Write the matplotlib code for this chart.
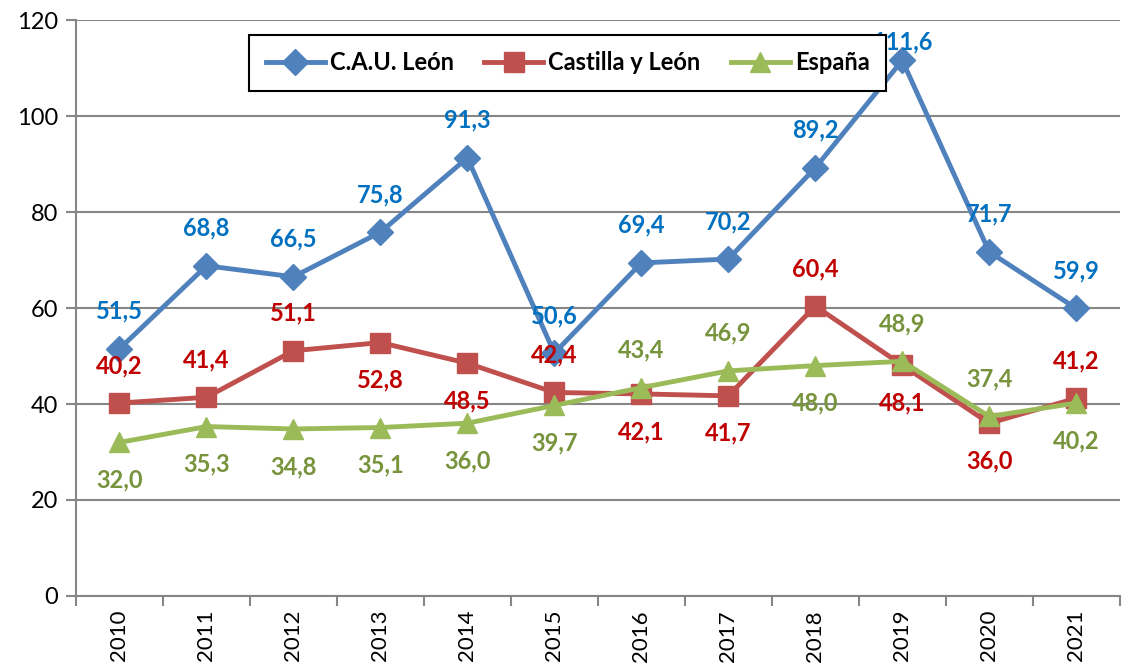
import matplotlib.pyplot as plt
import numpy as np

plt.rcParams['font.family'] = ['Lato', 'DejaVu Sans']

years = ['2010', '2011', '2012', '2013', '2014', '2015', '2016', '2017', '2018', '2019', '2020', '2021']
cau_leon = [51.5, 68.8, 66.5, 75.8, 91.3, 50.6, 69.4, 70.2, 89.2, 111.6, 71.7, 59.9]
castilla_leon = [40.2, 41.4, 51.1, 52.8, 48.5, 42.4, 42.1, 41.7, 60.4, 48.1, 36.0, 41.2]
espana = [32.0, 35.3, 34.8, 35.1, 36.0, 39.7, 43.4, 46.9, 48.0, 48.9, 37.4, 40.2]

# label placement: 1 = above the point, -1 = below
cau_pos = [1] * 12
cyl_pos = [1, 1, 1, -1, -1, 1, -1, -1, 1, -1, -1, 1]
esp_pos = [-1, -1, -1, -1, -1, -1, 1, 1, -1, 1, 1, -1]

series = [
    ('C.A.U. León', cau_leon, cau_pos, '#4F81BD', '#0070C0', 'D', 13),
    ('Castilla y León', castilla_leon, cyl_pos, '#C0504D', '#C00000', 's', 14),
    ('España', espana, esp_pos, '#9BBB59', '#77933C', '^', 15),
]

fig = plt.figure(figsize=(11.31, 6.68), dpi=100)
ax = fig.add_axes([0.0672, 0.1078, 0.9228, 0.8622])

x = np.arange(len(years))
for name, vals, pos, color, lcolor, marker, ms in series:
    ax.plot(x, vals, color=color, lw=3.5, marker=marker, markersize=ms,
            label=name, zorder=3)
    for xi, v, p in zip(x, vals, pos):
        off = 27 * p
        if name == 'C.A.U. León' and v > 110:
            off = 13
        ax.annotate(f'{v:.1f}'.replace('.', ','), (xi, v), xytext=(0, off),
                    textcoords='offset points', ha='center', va='center',
                    fontsize=17, fontweight='bold', color=lcolor, zorder=4)

ax.set_xlim(-0.5, len(years) - 0.5)
ax.set_ylim(0, 120)
ax.set_yticks(range(0, 121, 20))
ax.yaxis.grid(True, color='#868686', lw=1.5)
ax.set_axisbelow(True)

ax.set_xticks(x)
ax.set_xticklabels(years, rotation=90)
ax.set_xticks(np.arange(-0.5, len(years), 1), minor=True)
ax.tick_params(axis='x', which='major', length=0, pad=10, labelsize=16)
ax.tick_params(axis='x', which='minor', length=7, width=1.5, color='#868686')
ax.tick_params(axis='y', length=7, width=1.5, color='#868686', labelsize=17, pad=6)

for s in ['top', 'right']:
    ax.spines[s].set_visible(False)
for s in ['left', 'bottom']:
    ax.spines[s].set_color('#868686')
    ax.spines[s].set_linewidth(1.5)

leg = ax.legend(loc='upper center', bbox_to_anchor=(0.471, 0.995), ncol=3,
                frameon=True, fancybox=False, edgecolor='black', framealpha=1,
                prop={'size': 17, 'weight': 'bold'}, handlelength=2.5,
                columnspacing=1.3, handletextpad=0.2, borderpad=0.7)
leg.get_frame().set_linewidth(1.5)
leg.set_zorder(10)

fig.savefig('out.png', dpi=100)
